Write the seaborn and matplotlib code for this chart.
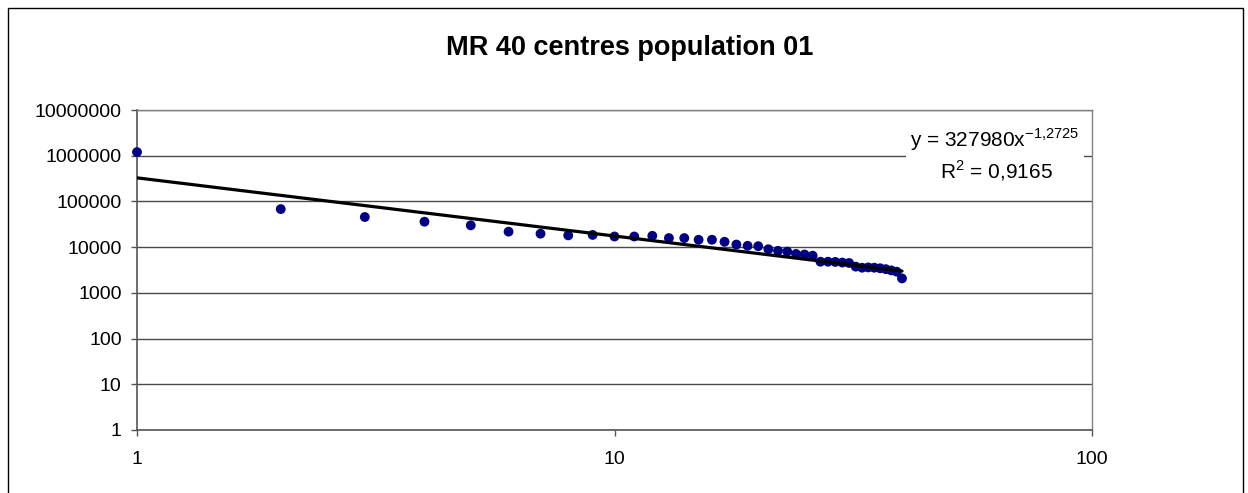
import matplotlib
matplotlib.use('Agg')
import matplotlib.pyplot as plt
import seaborn as sns
import numpy as np
import pandas as pd
from matplotlib.patches import Rectangle
from matplotlib.ticker import FixedLocator, NullLocator, FuncFormatter

# data
rank = list(range(1, 41))
population = [1200000, 68000, 45600, 36000, 30000, 21800, 19700, 18100, 18500, 17100,
              17100, 17700, 15800, 15800, 14500, 14500, 13100, 11400, 10700, 10500,
              9000, 8300, 8000, 7100, 6900, 6500, 4800, 4800, 4750, 4600,
              4500, 3750, 3550, 3600, 3550, 3450, 3300, 3100, 2900, 2070]
fit_a = 327980
fit_b = -1.2725
title = 'MR 40 centres population 01'
eq_text = r'y = 327980x$^{\mathregular{-1{,}2725}}$'
r2_text = r'R$^{\mathregular{2}}$ = 0,9165'
y_ticks = [1, 10, 100, 1000, 10000, 100000, 1000000, 10000000]
x_ticks = [1, 10, 100]

W, H = 1248, 493

sns.set_theme(style='white')
plt.rcParams['font.family'] = ['Liberation Sans', 'DejaVu Sans']
plt.rcParams['text.color'] = 'black'

df = pd.DataFrame({'rank': rank, 'population': population})
# power trendline as printed on the chart
df['trend'] = fit_a * df['rank'].astype(float) ** fit_b

fig = plt.figure(figsize=(W / 100, H / 100), dpi=100)
ax = fig.add_axes([137 / W, 1 - 430 / H, (1092 - 137) / W, 320 / H])

sns.scatterplot(data=df, x='rank', y='population', color='#000080', s=50,
                edgecolor='none', ax=ax, zorder=3, clip_on=False)
# Excel draws the trendline over the markers
sns.lineplot(data=df, x='rank', y='trend', color='black', lw=2.3, ax=ax, zorder=4)

ax.set_xscale('log')
ax.set_yscale('log')
ax.set_xlim(1, 100)
ax.set_ylim(1, 1e7)
ax.xaxis.set_major_locator(FixedLocator(x_ticks))
ax.yaxis.set_major_locator(FixedLocator(y_ticks))
ax.xaxis.set_minor_locator(NullLocator())
ax.yaxis.set_minor_locator(NullLocator())
fmt = FuncFormatter(lambda v, p: f'{v:.0f}')
ax.xaxis.set_major_formatter(fmt)
ax.yaxis.set_major_formatter(fmt)
ax.set_xlabel('')
ax.set_ylabel('')

ax.grid(False)
ax.yaxis.grid(True, color='#4a4a4a', lw=1)
ax.set_axisbelow(True)
for side in ['left', 'bottom']:
    ax.spines[side].set_color('#555555')
    ax.spines[side].set_linewidth(1.2)
for side in ['right', 'top']:
    ax.spines[side].set_color('#808080')
    ax.spines[side].set_linewidth(1)

ax.tick_params(axis='both', which='major', direction='out', length=4, width=1,
               color='#555555', labelsize=14, labelcolor='black')
ax.tick_params(axis='y', pad=7, left=True)
ax.tick_params(axis='x', pad=11, bottom=True)

fig.text(630 / W, 1 - 48 / H, title, ha='center', va='center',
         fontsize=19.5, fontweight='bold', color='black')

# trendline label box
fig.patches.append(Rectangle((906 / W, 1 - 186 / H), (1084 - 906) / W, 58 / H,
                             transform=fig.transFigure, facecolor='white',
                             edgecolor='none', zorder=5))
fig.text(994 / W, 1 - 147 / H, eq_text, ha='center', va='baseline', fontsize=15,
         color='black', zorder=6)
fig.text(996 / W, 1 - 178 / H, r2_text, ha='center', va='baseline', fontsize=15,
         color='black', zorder=6)

# outer chart border
fig.patches.append(Rectangle((8 / W, -0.05), (1243 - 8) / W, 1 - 8 / H + 0.05,
                             transform=fig.transFigure, fill=False,
                             edgecolor='black', lw=1, clip_on=False))

fig.savefig('out.png', dpi=100)
